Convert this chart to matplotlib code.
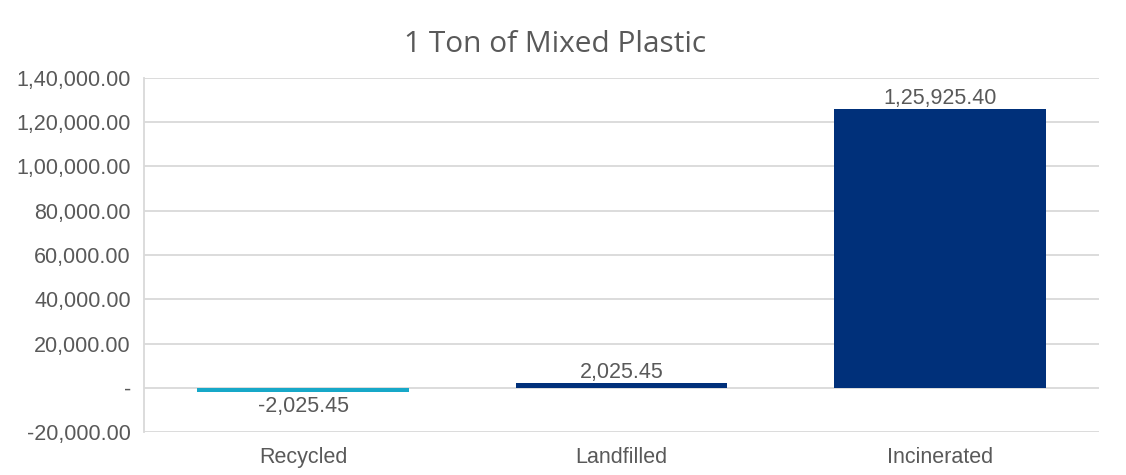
import matplotlib.pyplot as plt
from matplotlib.ticker import FuncFormatter, MultipleLocator

categories = ["Recycled", "Landfilled", "Incinerated"]
values = [-2025.45, 2025.45, 125925.40]
colors = ["#17a8c8", "#00307a", "#00307a"]


def indian_fmt(x, decimals=2):
    # lakh-style grouping: 1,25,925.40
    neg = x < 0
    s = f"{abs(x):.{decimals}f}"
    whole, frac = s.split(".")
    if len(whole) > 3:
        head, tail = whole[:-3], whole[-3:]
        groups = []
        while len(head) > 2:
            groups.insert(0, head[-2:])
            head = head[:-2]
        if head:
            groups.insert(0, head)
        whole = ",".join(groups) + "," + tail
    return ("-" if neg else "") + whole + "." + frac


def tick_fmt(v, pos):
    if abs(v) < 1e-6:
        return "-"
    return indian_fmt(v)


plt.rcParams['font.family'] = ['Liberation Sans', 'DejaVu Sans']
text_color = "#595959"
grid_color = "#d9d9d9"
fs = 15.5

fig = plt.figure(figsize=(11.26, 4.75), dpi=100)
ax = fig.add_axes([0.1279, 0.0905, 0.976 - 0.1279, 0.8358 - 0.0905])

x = range(len(categories))
bars = ax.bar(x, values, width=0.665, color=colors, zorder=3)

ax.set_ylim(-20000, 140000)
ax.set_xlim(-0.5, 2.5)
ax.yaxis.set_major_locator(MultipleLocator(20000))
ax.yaxis.set_major_formatter(FuncFormatter(tick_fmt))
ax.set_xticks(list(x))
ax.set_xticklabels(categories)

ax.grid(axis="y", color=grid_color, linewidth=1.3, zorder=0)
for side in ["top", "right", "bottom"]:
    ax.spines[side].set_visible(False)
ax.spines["left"].set_color(grid_color)
ax.spines["left"].set_linewidth(1.3)
ax.tick_params(axis="both", length=0, labelsize=fs, labelcolor=text_color)
ax.tick_params(axis="y", pad=9.5)
ax.tick_params(axis="x", pad=11)

for b, v in zip(bars, values):
    cx = b.get_x() + b.get_width() / 2
    if v < 0:
        ax.annotate(indian_fmt(v), (cx, v), xytext=(0, -3), textcoords="offset points",
                    ha="center", va="top", fontsize=fs, color=text_color)
    else:
        ax.annotate(indian_fmt(v), (cx, v), xytext=(0, 0), textcoords="offset points",
                    ha="center", va="bottom", fontsize=fs, color=text_color)

fig.text(0.4929, 0.907, "1 Ton of Mixed Plastic", ha="center", va="center",
         fontsize=21.5, color=text_color, family=["Open Sans", "DejaVu Sans"])

fig.savefig("out.png", dpi=100)
